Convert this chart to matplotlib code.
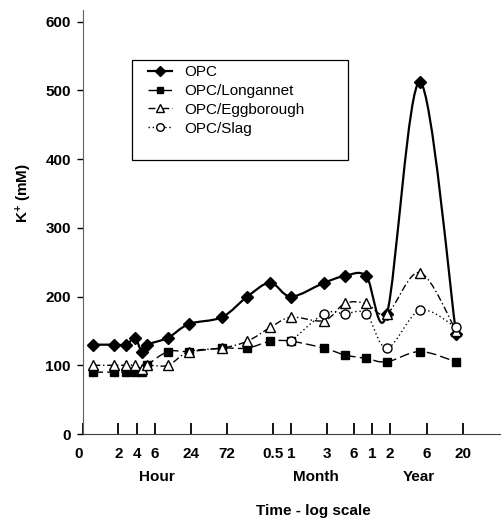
import matplotlib
matplotlib.use("Agg")
import matplotlib.pyplot as plt
import matplotlib.transforms as mtrans
import numpy as np
from matplotlib.lines import Line2D
from matplotlib.patches import PathPatch, Rectangle
from matplotlib.path import Path

plt.rcParams["font.family"] = ["Liberation Sans", "DejaVu Sans"]
plt.rcParams["mathtext.fontset"] = "custom"
plt.rcParams["mathtext.bf"] = "Liberation Sans:bold"
plt.rcParams["mathtext.rm"] = "Liberation Sans:bold"
plt.rcParams["mathtext.default"] = "bf"

# sampling times in hours: 1-6 h, 12 h, 24 h, 72 h, 1 wk, 0.5 mo, 1 mo, 3 mo, 6 mo, 1-2-6-20 yr
HOURS_ALL = [1, 2, 3, 4, 5, 6, 12, 24, 72, 168, 360, 720, 2160, 4320, 8760, 17520, 52560, 175200]
HOURS_SLAG = [720, 2160, 4320, 8760, 17520, 52560, 175200]

OPC        = [130, 130, 130, 140, 120, 130, 140, 160, 170, 200, 220, 200, 220, 230, 230, 175, 512, 145]
LONGANNET  = [90, 90, 90, 90, 90, 100, 120, 120, 125, 125, 135, 135, 125, 115, 110, 105, 120, 105]
EGGBOROUGH = [100, 100, 100, 100, 95, 100, 100, 120, 125, 135, 155, 170, 165, 190, 190, 175, 235, 150]
SLAG       = [135, 175, 175, 175, 125, 180, 155]

# tick positions on the log10(hours) axis, as drawn in the original
TICK_POS = [-0.145, 0.361, 0.627, 0.887, 1.416, 1.928, 2.592, 2.857, 3.373, 3.767, 4.032, 4.288, 4.818, 5.338]
TICK_LABELS = ["0", "2", "4", "6", "24", "72", "0.5", "1", "3", "6", "1", "2", "6", "20"]
GROUP_POS = [0.92, 3.218, 4.697]
GROUP_LABELS = ["Hour", "Month", "Year"]


def smooth_path(x, y):
    """Catmull-Rom style bezier through the points (Excel 'smoothed line')."""
    pts = np.column_stack([x, y]).astype(float)
    verts = [pts[0]]
    codes = [Path.MOVETO]
    n = len(pts)
    for i in range(n - 1):
        p0 = pts[i - 1] if i > 0 else pts[i]
        p1, p2 = pts[i], pts[i + 1]
        p3 = pts[i + 2] if i + 2 < n else pts[i + 1]
        verts += [p1 + (p2 - p0) / 6, p2 - (p3 - p1) / 6, p2]
        codes += [Path.CURVE4] * 3
    return Path(verts, codes)


series = [
    ("OPC",             HOURS_ALL,  OPC,        "D", "black", 1.6, "-",              6.0),
    ("OPC/Longannet",   HOURS_ALL,  LONGANNET,  "s", "black", 1.0, (0, (7, 3)),      6.0),
    ("OPC/Eggborough",  HOURS_ALL,  EGGBOROUGH, "^", "white", 1.0, (0, (5, 2, 1, 2)), 7.0),
    ("OPC/Slag",        HOURS_SLAG, SLAG,       "o", "white", 1.0, (0, (1, 2)),      6.5),
]

fig = plt.figure(figsize=(5.03, 5.23), dpi=100)
ax = fig.add_axes([83.3 / 503, 89 / 523, 416.7 / 503, 424 / 523])

handles = []
for i, (name, hrs, vals, mk, fc, lw, ls, ms) in enumerate(series):
    x = np.log10(hrs)
    ax.add_patch(PathPatch(smooth_path(x, vals), facecolor="none", edgecolor="black",
                           lw=lw, linestyle=ls, zorder=2 + i))
    ax.plot(x, vals, linestyle="none", marker=mk, ms=ms, mfc=fc, mec="black",
            mew=1.0, zorder=2.5 + i)
    handles.append(Line2D([], [], color="black", lw=lw, linestyle=ls, marker=mk,
                          ms=ms - 1, mfc=fc, mec="black", mew=1.0))

ax.set_xlim(-0.145, 5.877)
ax.set_ylim(0, 617)

for s in ["top", "right"]:
    ax.spines[s].set_visible(False)
ax.spines["left"].set_color("#606060")
ax.spines["bottom"].set_color("#404040")

ax.set_yticks(np.arange(0, 601, 100))
ax.tick_params(axis="y", direction="out", length=4, width=1, pad=5, labelsize=11)
ax.set_xticks(TICK_POS)
ax.set_xticklabels(TICK_LABELS)
ax.tick_params(axis="x", direction="in", length=8, width=1.3, pad=9, labelsize=11)
for lab in ax.get_xticklabels() + ax.get_yticklabels():
    lab.set_fontweight("bold")
# the "0" of the time axis sits a little left of the origin
first = ax.get_xticklabels()[0]
first.set_transform(first.get_transform() +
                    mtrans.ScaledTranslation(-5 / 100, 0, fig.dpi_scale_trans))

for gx, gl in zip(GROUP_POS, GROUP_LABELS):
    ax.text(gx, -0.1007, gl, transform=ax.get_xaxis_transform(), ha="center",
            va="center", fontsize=11, fontweight="bold")

ax.set_xlabel("Time - log scale", fontsize=11, fontweight="bold")
ax.xaxis.set_label_coords(0.553, -0.164)
ax.set_ylabel(r"K$^{+}$ (mM)", fontsize=11, fontweight="bold")
ax.yaxis.set_label_coords(-0.118, 0.568)

# legend frame is taller than its entries in the original
fig.patches.append(Rectangle((132 / 503, 1 - 160 / 523), 216 / 503, 100 / 523,
                             transform=fig.transFigure, facecolor="white",
                             edgecolor="black", lw=0.9, zorder=10))
leg = fig.legend(handles, [s[0] for s in series], loc="upper left",
                 bbox_to_anchor=(148 / 503, 1 - 65 / 523), frameon=False,
                 fontsize=11, handlelength=1.6, handletextpad=0.8,
                 labelspacing=0.32, borderpad=0.0, borderaxespad=0.0)
leg.set_zorder(11)

fig.savefig("out.png", dpi=100)
